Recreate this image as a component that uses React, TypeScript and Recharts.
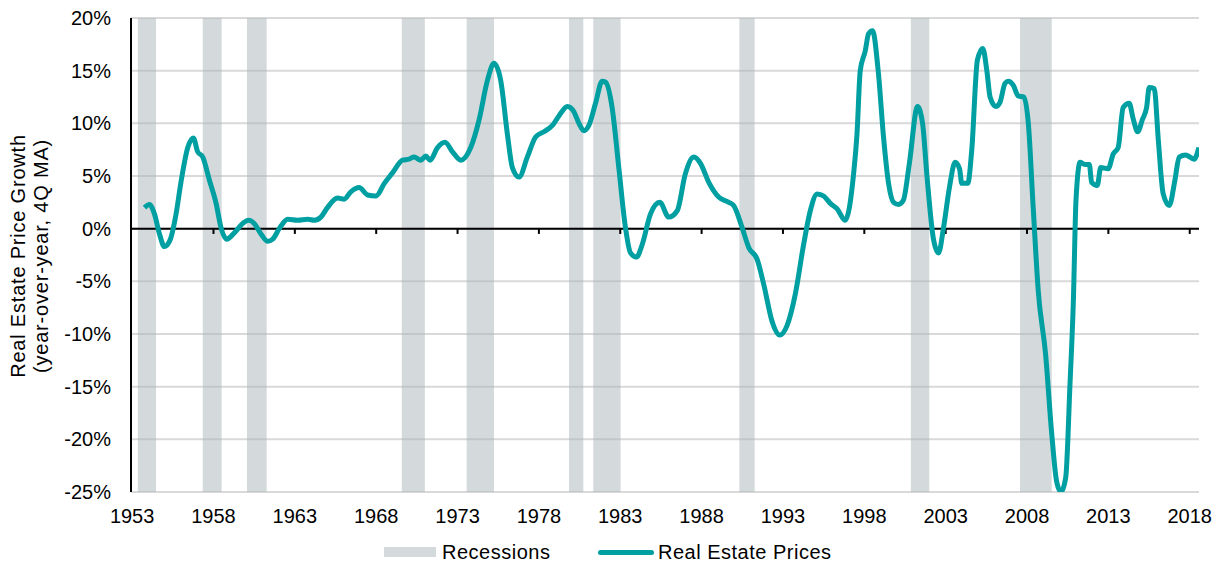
import {
  ComposedChart,
  Line,
  XAxis,
  YAxis,
  CartesianGrid,
  ReferenceArea,
  ReferenceLine,
} from "recharts";

// quarter (decimal year) and 4Q moving average of real estate price growth, %
const quarters = [
  1953.76, 1954.06, 1954.37, 1954.68, 1954.98, 1955.35, 1955.7, 1956.0, 1956.42, 1956.76,
  1957.03, 1957.34, 1957.75, 1958.16, 1958.46, 1958.81, 1959.28, 1959.8, 1960.16, 1960.5,
  1960.92, 1961.33, 1961.64, 1962.04, 1962.56, 1963.17, 1963.79, 1964.19, 1964.6, 1965.0,
  1965.63, 1966.03, 1966.44, 1966.95, 1967.47, 1967.98, 1968.5, 1969.0, 1969.62, 1970.02,
  1970.33, 1970.74, 1971.05, 1971.31, 1971.77, 1972.23, 1972.69, 1973.2, 1973.81, 1974.32,
  1974.84, 1975.24, 1975.65, 1976.06, 1976.37, 1976.78, 1977.29, 1977.8, 1978.31, 1978.83,
  1979.23, 1979.75, 1980.15, 1980.46, 1980.77, 1981.07, 1981.48, 1981.89, 1982.1, 1982.5,
  1982.91, 1983.32, 1983.63, 1984.0, 1984.35, 1984.86, 1985.43, 1985.98, 1986.5, 1987.0,
  1987.52, 1987.93, 1988.44, 1989.05, 1989.67, 1989.97, 1990.49, 1990.9, 1991.41, 1991.82,
  1992.33, 1992.8, 1993.25, 1993.76, 1994.27, 1994.68, 1995.1, 1995.5, 1995.91, 1996.32,
  1996.83, 1997.34, 1997.55, 1997.75, 1998.06, 1998.26, 1998.5, 1998.87, 1999.18, 1999.49,
  1999.8, 2000.1, 2000.4, 2000.77, 2001.27, 2001.58, 2001.85, 2002.25, 2002.56, 2002.87,
  2003.23, 2003.58, 2003.85, 2003.99, 2004.36, 2004.6, 2004.95, 2005.28, 2005.53, 2005.73,
  2006.08, 2006.34, 2006.65, 2006.85, 2007.16, 2007.46, 2007.81, 2008.08, 2008.38, 2008.69,
  2009.14, 2009.52, 2009.82, 2010.09, 2010.38, 2010.64, 2010.85, 2011.01, 2011.26, 2011.56,
  2011.83, 2011.97, 2012.32, 2012.53, 2012.99, 2013.3, 2013.6, 2013.91, 2014.28, 2014.53,
  2014.8, 2015.1, 2015.35, 2015.51, 2015.82, 2016.07, 2016.37, 2016.74, 2017.09, 2017.35,
  2017.76, 2018.01, 2018.27, 2018.56,
];

const priceGrowth = [
  2.0, 2.3, 1.4, -0.5, -1.7, -1.0, 1.4, 4.4, 7.7, 8.6,
  7.3, 6.8, 4.6, 2.4, 0.1, -1.0, -0.4, 0.5, 0.8, 0.5,
  -0.5, -1.2, -1.0, 0.0, 0.9, 0.8, 0.9, 0.8, 1.1, 2.0,
  2.9, 2.8, 3.5, 3.9, 3.2, 3.1, 4.3, 5.3, 6.5, 6.6,
  6.8, 6.5, 6.9, 6.5, 7.7, 8.2, 7.3, 6.5, 7.7, 10.3,
  14.1, 15.7, 14.1, 9.0, 5.8, 4.9, 6.8, 8.7, 9.2, 9.8,
  10.7, 11.6, 11.1, 10.0, 9.3, 9.8, 11.9, 14.0, 13.9, 11.5,
  5.8, 0.1, -2.3, -2.7, -1.5, 1.4, 2.5, 1.1, 1.7, 5.2,
  6.8, 6.2, 4.4, 3.0, 2.5, 2.2, 0.1, -1.8, -2.9, -5.3,
  -8.8, -10.1, -9.2, -6.2, -1.5, 1.7, 3.3, 3.1, 2.4, 1.9,
  0.8, 5.2, 9.0, 15.0, 16.9, 18.5, 18.8, 14.7, 8.7, 4.3,
  2.5, 2.3, 2.7, 6.2, 11.6, 10.0, 5.0, -1.0, -2.3, 0.1,
  3.9, 6.3, 5.7, 4.3, 4.3, 7.4, 16.0, 17.1, 15.0, 12.5,
  11.6, 12.0, 13.8, 14.0, 13.6, 12.6, 12.5, 10.0, 2.0, -5.9,
  -11.9, -19.5, -24.0, -25.0, -23.6, -14.8, -6.8, 2.7, 6.3, 6.1,
  6.1, 4.4, 4.1, 5.8, 5.7, 7.1, 7.7, 11.5, 11.9, 10.4,
  9.2, 10.4, 11.5, 13.4, 13.3, 8.4, 3.3, 2.2, 4.6, 6.8,
  7.0, 6.8, 6.6, 7.7,
];

const recessionStart = [1953.35, 1957.34, 1960.06, 1969.57, 1973.56, 1979.85, 1981.34, 1990.32, 2000.86, 2007.57];
const recessionEnd = [1954.47, 1958.5, 1961.27, 1970.99, 1975.24, 1980.73, 1983.02, 1991.26, 2001.99, 2009.52];

const yearTicks = [1953, 1958, 1963, 1968, 1973, 1978, 1983, 1988, 1993, 1998, 2003, 2008, 2013, 2018];
const pctTicks = [-25, -20, -15, -10, -5, 0, 5, 10, 15, 20];

const TEAL = "#009FA1";
const FONT = '"Liberation Sans", Arial, sans-serif';

const chartData = quarters.map((t, i) => ({ t, growth: priceGrowth[i] }));

function AxisTitle({ viewBox }: { viewBox?: { x: number; y: number; width: number; height: number } }) {
  if (!viewBox) return null;
  const cy = viewBox.y + viewBox.height / 2 + 1;
  const lines = ["Real Estate Price Growth", "(year-over-year, 4Q MA)"];
  return (
    <g>
      {lines.map((txt, i) => {
        const cx = viewBox.x + 18 + i * 23;
        return (
          <text
            key={txt}
            x={cx}
            y={cy}
            transform={`rotate(-90 ${cx} ${cy})`}
            textAnchor="middle"
            dominantBaseline="central"
            fontSize={20}
            letterSpacing={0.8}
            fill="#000"
            fontFamily={FONT}
          >
            {txt}
          </text>
        );
      })}
    </g>
  );
}

export default function App() {
  return (
    <div
      style={{
        position: "absolute",
        left: 0,
        top: 0,
        width: 1223,
        height: 562,
        background: "#fff",
        fontFamily: FONT,
      }}
    >
      <ComposedChart
        width={1223}
        height={535}
        data={chartData}
        margin={{ top: 18, right: 24, bottom: 0, left: 0 }}
      >
        <CartesianGrid horizontal vertical={false} stroke="#D9D9D9" strokeWidth={2} />
        {recessionStart.map((start, i) => (
          <ReferenceArea
            key={`rec-${start}`}
            x1={start}
            x2={recessionEnd[i]}
            fill="#A9B5BA"
            fillOpacity={0.5}
            stroke="none"
            ifOverflow="hidden"
          />
        ))}
        <XAxis
          dataKey="t"
          type="number"
          domain={[1952.93, 2018.57]}
          ticks={yearTicks}
          interval={0}
          allowDataOverflow
          axisLine={false}
          tickLine={false}
          tickSize={0}
          tickMargin={17}
          height={43}
          tick={{ fill: "#000", fontSize: 20, fontFamily: FONT }}
        />
        <YAxis
          type="number"
          domain={[-25, 20]}
          ticks={pctTicks}
          interval={0}
          allowDataOverflow
          width={131}
          axisLine={{ stroke: "#000", strokeWidth: 2 }}
          tickLine={false}
          tickSize={0}
          tickMargin={20}
          tickFormatter={(v: number) => `${v}%`}
          tick={{ fill: "#000", fontSize: 20, fontFamily: FONT }}
          label={<AxisTitle />}
        />
        <ReferenceLine y={0} stroke="#000" strokeWidth={2} />
        {yearTicks.slice(1).map((yr) => (
          <ReferenceLine
            key={`tick-${yr}`}
            segment={[
              { x: yr, y: 0 },
              { x: yr, y: -0.5 },
            ]}
            stroke="#000"
            strokeWidth={2}
          />
        ))}
        <Line
          type="monotone"
          dataKey="growth"
          stroke={TEAL}
          strokeWidth={5}
          dot={false}
          activeDot={false}
          isAnimationActive={false}
        />
      </ComposedChart>

      <div
        style={{
          position: "absolute",
          left: 384,
          top: 541,
          height: 22,
          display: "flex",
          alignItems: "center",
          fontSize: 20,
          letterSpacing: 0.5,
          color: "#000",
        }}
      >
        <div style={{ width: 52, height: 10, background: "#D4DADC" }} />
        <span style={{ marginLeft: 6 }}>Recessions</span>
      </div>
      <div
        style={{
          position: "absolute",
          left: 598,
          top: 541,
          height: 22,
          display: "flex",
          alignItems: "center",
          fontSize: 20,
          letterSpacing: 0.5,
          color: "#000",
        }}
      >
        <div style={{ width: 56, height: 5, background: TEAL, borderRadius: 3 }} />
        <span style={{ marginLeft: 4 }}>Real Estate Prices</span>
      </div>
    </div>
  );
}
